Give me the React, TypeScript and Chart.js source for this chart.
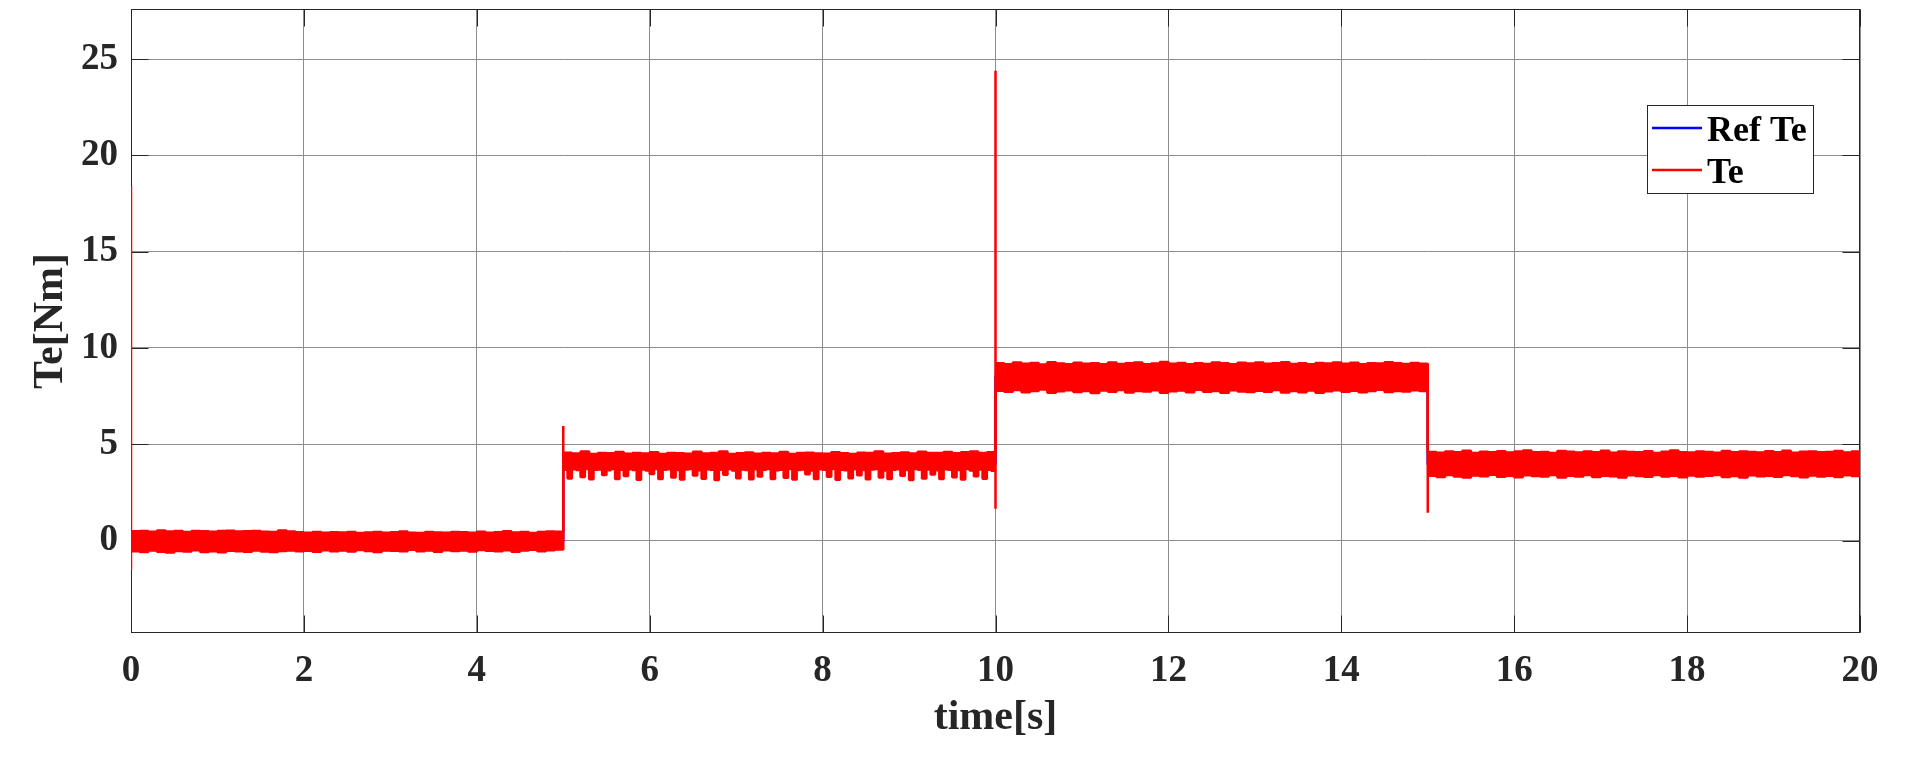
import { useEffect, useRef } from 'react'
import { Chart, registerables } from 'chart.js'
import type { Plugin } from 'chart.js'

Chart.register(...registerables)

// axes
const xRange = [0, 20]
const yRange = [-4.8, 27.6]
const xTicks = [0, 2, 4, 6, 8, 10, 12, 14, 16, 18, 20]
const yTicks = [0, 5, 10, 15, 20, 25]

// reference torque, step profile
const refTimes = [0, 5, 5, 10, 10, 15, 15, 20]
const refTorque = [0, 0, 4, 4, 8.5, 8.5, 4, 4]

// load steps of measured Te: step time, spike top, spike bottom
const stepTimes = [0, 5, 10, 15]
const stepHigh = [18.4, 5.95, 24.4, 9.2]
const stepLow = [-1.55, -0.45, 1.65, 1.45]
const endTime = 20

// ripple envelope of Te, equal time bins across each load interval
const upper0to5 = [
  0.48, 0.5, 0.46, 0.52, 0.47, 0.49, 0.45, 0.5, 0.48, 0.46,
  0.49, 0.51, 0.47, 0.48, 0.5, 0.46, 0.45, 0.52, 0.47, 0.43,
  0.41, 0.44, 0.4, 0.43, 0.42, 0.45, 0.39, 0.42, 0.44, 0.4,
  0.43, 0.47, 0.41, 0.39, 0.44, 0.42, 0.4, 0.45, 0.43, 0.41,
  0.46, 0.4, 0.43, 0.48, 0.42, 0.44, 0.39, 0.45, 0.47, 0.46,
]
const lower0to5 = [
  -0.55, -0.6, -0.52, -0.58, -0.62, -0.54, -0.57, -0.5, -0.59, -0.55,
  -0.61, -0.53, -0.56, -0.58, -0.52, -0.57, -0.6, -0.54, -0.51, -0.56,
  -0.53, -0.58, -0.5, -0.55, -0.52, -0.57, -0.49, -0.54, -0.6, -0.51,
  -0.53, -0.56, -0.48, -0.55, -0.52, -0.58, -0.5, -0.54, -0.51, -0.57,
  -0.49, -0.53, -0.56, -0.5, -0.58, -0.52, -0.48, -0.55, -0.5, -0.47,
]
const upper5to10 = [
  4.56, 4.52, 4.62, 4.5, 4.55, 4.53, 4.6, 4.51, 4.54, 4.52,
  4.58, 4.5, 4.55, 4.53, 4.51, 4.61, 4.52, 4.54, 4.63, 4.5,
  4.53, 4.57, 4.51, 4.55, 4.52, 4.6, 4.5, 4.54, 4.56, 4.52,
  4.51, 4.59, 4.53, 4.5, 4.56, 4.54, 4.62, 4.51, 4.53, 4.57,
  4.52, 4.61, 4.54, 4.55, 4.6, 4.53, 4.58, 4.63, 4.55, 4.59,
]
const lower5to10 = [
  3.68, 3.22, 3.7, 3.66, 3.3, 3.71, 3.18, 3.67, 3.69, 3.4,
  3.65, 3.72, 3.2, 3.68, 3.35, 3.7, 3.66, 3.16, 3.69, 3.64,
  3.45, 3.71, 3.19, 3.67, 3.7, 3.28, 3.66, 3.17, 3.69, 3.72,
  3.38, 3.65, 3.21, 3.7, 3.67, 3.15, 3.68, 3.42, 3.71, 3.64,
  3.24, 3.69, 3.66, 3.18, 3.7, 3.33, 3.67, 3.72, 3.2, 3.65,
  3.68, 3.26, 3.71, 3.17, 3.66, 3.69, 3.44, 3.64, 3.19, 3.7,
  3.67, 3.31, 3.72, 3.16, 3.68, 3.65, 3.23, 3.7, 3.39, 3.66,
  3.18, 3.69, 3.71, 3.27, 3.64, 3.2, 3.68, 3.7, 3.36, 3.66,
  3.15, 3.71, 3.67, 3.22, 3.69, 3.43, 3.65, 3.19, 3.7, 3.68,
  3.29, 3.66, 3.17, 3.72, 3.64, 3.34, 3.69, 3.21, 3.67, 3.62,
]
const upper10to15 = [
  9.2, 9.15, 9.24, 9.18, 9.22, 9.14, 9.26, 9.19, 9.16, 9.23,
  9.18, 9.21, 9.15, 9.25, 9.17, 9.2, 9.24, 9.16, 9.19, 9.27,
  9.18, 9.22, 9.15, 9.2, 9.17, 9.25, 9.21, 9.16, 9.23, 9.19,
  9.24, 9.18, 9.21, 9.26, 9.17, 9.2, 9.15, 9.22, 9.19, 9.25,
  9.18, 9.23, 9.16, 9.21, 9.19, 9.26, 9.2, 9.17, 9.22, 9.18,
]
const lower10to15 = [
  7.78, 7.72, 7.82, 7.7, 7.76, 7.84, 7.68, 7.75, 7.8, 7.71,
  7.77, 7.66, 7.79, 7.73, 7.82, 7.69, 7.76, 7.74, 7.81, 7.67,
  7.75, 7.79, 7.7, 7.83, 7.72, 7.77, 7.68, 7.8, 7.74, 7.71,
  7.78, 7.73, 7.82, 7.69, 7.76, 7.7, 7.79, 7.67, 7.75, 7.81,
  7.72, 7.78, 7.7, 7.76, 7.83, 7.71, 7.77, 7.74, 7.8, 7.76,
]
const upper15to20 = [
  4.6, 4.56, 4.63, 4.58, 4.66, 4.55, 4.61, 4.59, 4.64, 4.57,
  4.62, 4.68, 4.58, 4.6, 4.55, 4.65, 4.61, 4.57, 4.63, 4.59,
  4.66, 4.56, 4.62, 4.6, 4.58, 4.64, 4.55, 4.61, 4.67, 4.59,
  4.57, 4.63, 4.6, 4.56, 4.65, 4.58, 4.62, 4.6, 4.57, 4.64,
  4.59, 4.66, 4.56, 4.61, 4.63, 4.58, 4.6, 4.65, 4.57, 4.62,
]
const lower15to20 = [
  3.36, 3.3, 3.4, 3.33, 3.28, 3.38, 3.34, 3.42, 3.31, 3.36,
  3.29, 3.39, 3.35, 3.32, 3.4, 3.27, 3.37, 3.33, 3.41, 3.3,
  3.36, 3.34, 3.28, 3.39, 3.35, 3.31, 3.4, 3.33, 3.37, 3.29,
  3.38, 3.32, 3.36, 3.41, 3.3, 3.35, 3.28, 3.39, 3.34, 3.37,
  3.31, 3.4, 3.35, 3.29, 3.38, 3.33, 3.36, 3.3, 3.39, 3.35,
]

const legendLabels = ['Ref Te', 'Te']

const FONT = '"Liberation Serif", "Times New Roman", serif'
const AXIS = '#262626'
const GRID = '#8c8c8c'
const RED = '#ff0000'
const BLUE = '#0000ff'

type Pt = { x: number; y: number }

// envelope polyline: vertical jump at each load step, then the time bins
function envelope(segs: number[][], spikes: number[]): Pt[] {
  const pts: Pt[] = []
  segs.forEach((seg, k) => {
    const t0 = stepTimes[k]
    const t1 = k + 1 < stepTimes.length ? stepTimes[k + 1] : endTime
    const bin = (t1 - t0) / seg.length
    if (k > 0) {
      const prev = segs[k - 1]
      pts.push({ x: t0, y: prev[prev.length - 1] })
    }
    pts.push({ x: t0, y: spikes[k] })
    pts.push({ x: t0, y: seg[0] })
    seg.forEach((v, i) => {
      pts.push({ x: Math.round((t0 + bin / 2 + i * bin) * 10000) / 10000, y: v })
    })
  })
  const last = segs[segs.length - 1]
  pts.push({ x: endTime, y: last[last.length - 1] })
  return pts
}

const frame: Plugin = {
  id: 'matlabFrame',
  beforeDatasetsDraw(chart) {
    const { ctx, chartArea: a, scales } = chart
    const len = 17
    const l = Math.round(a.left) + 0.5
    const r = Math.round(a.right) - 0.5
    const t = Math.round(a.top) + 0.5
    const b = Math.round(a.bottom) - 0.5
    ctx.save()
    ctx.strokeStyle = AXIS
    ctx.lineWidth = 1
    ctx.beginPath()
    scales.x.ticks.forEach((tk) => {
      const px = Math.round(scales.x.getPixelForValue(tk.value)) + 0.5
      ctx.moveTo(px, b)
      ctx.lineTo(px, b - len)
      ctx.moveTo(px, t)
      ctx.lineTo(px, t + len)
    })
    scales.y.ticks.forEach((tk) => {
      const py = Math.round(scales.y.getPixelForValue(tk.value)) + 0.5
      ctx.moveTo(l, py)
      ctx.lineTo(l + len, py)
      ctx.moveTo(r, py)
      ctx.lineTo(r - len, py)
    })
    ctx.stroke()
    ctx.strokeRect(l, t, r - l, b - t)
    ctx.restore()
  },
}

const legendBox: Plugin = {
  id: 'insideLegend',
  afterDraw(chart) {
    const { ctx, chartArea: a } = chart
    const left = Math.round(a.right) - 213
    const top = Math.round(a.top) + 96
    const w = 166
    const h = 88
    const rowH = 42
    ctx.save()
    ctx.fillStyle = '#ffffff'
    ctx.fillRect(left, top, w, h)
    ctx.strokeStyle = AXIS
    ctx.lineWidth = 1
    ctx.strokeRect(left + 0.5, top + 0.5, w, h)
    ctx.font = `bold 36px ${FONT}`
    ctx.textBaseline = 'alphabetic'
    ctx.textAlign = 'left'
    legendLabels.forEach((label, i) => {
      const ds = chart.data.datasets.find((d) => d.label === label)
      if (!ds) return
      const y = top + 23 + i * rowH
      ctx.strokeStyle = ds.borderColor as string
      ctx.lineWidth = 2.5
      ctx.beginPath()
      ctx.moveTo(left + 5, y)
      ctx.lineTo(left + 55, y)
      ctx.stroke()
      ctx.fillStyle = '#000000'
      ctx.fillText(label, left + 60, y + 13)
    })
    ctx.restore()
  },
}

export default function App() {
  const canvasRef = useRef<HTMLCanvasElement>(null)
  const chartRef = useRef<Chart | null>(null)

  useEffect(() => {
    if (!canvasRef.current) return
    if (chartRef.current) chartRef.current.destroy()

    const upper = envelope([upper0to5, upper5to10, upper10to15, upper15to20], stepHigh)
    const lower = envelope([lower0to5, lower5to10, lower10to15, lower15to20], stepLow)
    const ref = refTimes.map((t, i) => ({ x: t, y: refTorque[i] }))

    chartRef.current = new Chart(canvasRef.current, {
      type: 'line',
      data: {
        datasets: [
          {
            label: 'Te',
            data: upper,
            borderColor: RED,
            backgroundColor: RED,
            borderWidth: 2.5,
            borderJoinStyle: 'bevel',
            stepped: 'middle',
            pointRadius: 0,
            fill: '+1',
            order: 0,
          },
          {
            label: 'Te (lower envelope)',
            data: lower,
            borderColor: RED,
            backgroundColor: RED,
            borderWidth: 2.5,
            borderJoinStyle: 'bevel',
            stepped: 'middle',
            pointRadius: 0,
            fill: false,
            order: 0,
          },
          {
            label: 'Ref Te',
            data: ref,
            borderColor: BLUE,
            backgroundColor: BLUE,
            borderWidth: 2.5,
            pointRadius: 0,
            fill: false,
            order: 2,
          },
        ],
      },
      options: {
        animation: false,
        responsive: true,
        maintainAspectRatio: false,
        events: [],
        layout: { padding: { top: 9, right: 60, bottom: 0, left: 0 } },
        plugins: {
          legend: { display: false },
          tooltip: { enabled: false },
        },
        scales: {
          x: {
            type: 'linear',
            min: xRange[0],
            max: xRange[1],
            afterBuildTicks: (s) => {
              s.ticks = xTicks.map((v) => ({ value: v }))
            },
            afterFit: (s) => {
              s.height = 125
              s.paddingLeft = 0
              s.paddingRight = 0
            },
            grid: { color: GRID, lineWidth: 1, drawTicks: false },
            border: { display: false },
            ticks: {
              color: AXIS,
              padding: 16,
              maxRotation: 0,
              autoSkip: false,
              font: { family: FONT, size: 37, weight: 'bold' },
            },
            title: {
              display: true,
              text: 'time[s]',
              color: AXIS,
              font: { family: FONT, size: 42, weight: 'bold' },
              padding: { top: 0, bottom: 15 },
            },
          },
          y: {
            type: 'linear',
            min: yRange[0],
            max: yRange[1],
            afterBuildTicks: (s) => {
              s.ticks = yTicks.map((v) => ({ value: v }))
            },
            afterFit: (s) => {
              s.width = 131
              s.paddingTop = 0
              s.paddingBottom = 0
            },
            grid: { color: GRID, lineWidth: 1, drawTicks: false },
            border: { display: false },
            ticks: {
              color: AXIS,
              padding: 13,
              font: { family: FONT, size: 37, weight: 'bold' },
            },
            title: {
              display: true,
              text: 'Te[Nm]',
              color: AXIS,
              font: { family: FONT, size: 42, weight: 'bold' },
              padding: { top: 26, bottom: 0 },
            },
          },
        },
      },
      plugins: [frame, legendBox],
    })

    return () => {
      if (chartRef.current) {
        chartRef.current.destroy()
        chartRef.current = null
      }
    }
  }, [])

  return (
    <div style={{ position: 'absolute', left: 0, top: 0, width: 1920, height: 758, background: '#ffffff' }}>
      <canvas ref={canvasRef} />
    </div>
  )
}
